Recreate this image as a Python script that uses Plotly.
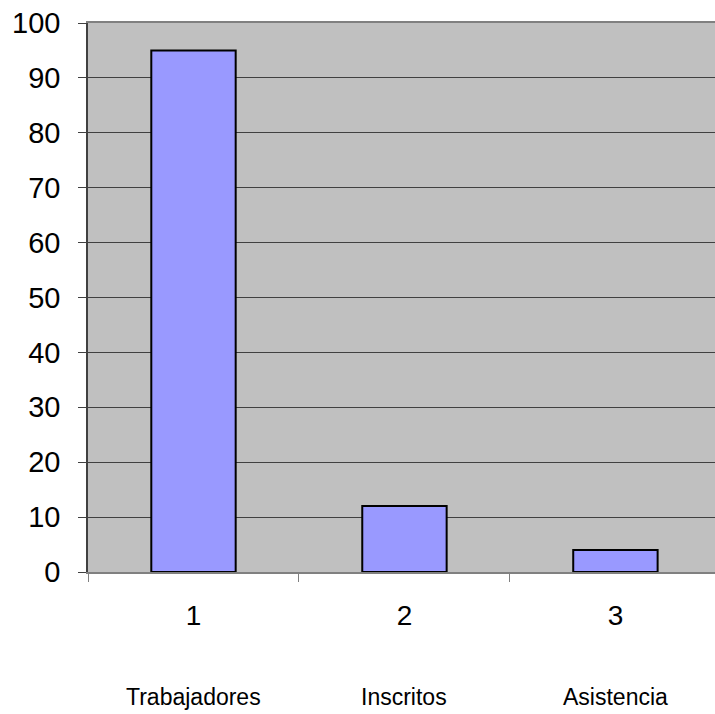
import plotly.graph_objects as go

categories = ["1", "2", "3"]
names = ["Trabajadores", "Inscritos", "Asistencia"]
values = [95, 12, 4]
y_ticks = [0, 10, 20, 30, 40, 50, 60, 70, 80, 90, 100]

fig = go.Figure()
fig.add_trace(go.Bar(
    x=categories, y=values,
    width=0.40,
    marker=dict(color="#9999FF", line=dict(color="black", width=2)),
    hoverinfo="skip",
))

annotations = []
for i, n in enumerate(names):
    annotations.append(dict(
        x=i, y=-0.228, xref="x", yref="paper", text=n, showarrow=False,
        xanchor="center", yanchor="middle",
        font=dict(family="Liberation Sans, Arial", size=23, color="black"),
    ))

fig.update_layout(
    width=715, height=714,
    margin=dict(l=88, r=0, t=23, b=142),
    paper_bgcolor="white",
    plot_bgcolor="#C0C0C0",
    showlegend=False,
    font=dict(family="Liberation Sans, Arial", color="black"),
    annotations=annotations,
    xaxis=dict(
        type="category",
        range=[-0.5, 2.472],
        tickson="boundaries",
        ticks="outside", ticklen=8, tickcolor="#808080", tickwidth=1,
        showgrid=False,
        showline=True, linecolor="#808080", linewidth=1.5, mirror=True,
        tickfont=dict(size=28),
        ticklabelstandoff=18,
    ),
    yaxis=dict(
        range=[0, 100],
        tickvals=y_ticks,
        ticks="outside", ticklen=8, tickcolor="#404040", tickwidth=1,
        showgrid=True, gridcolor="#404040", gridwidth=1,
        showline=True, linecolor="#404040", linewidth=1.5,
        zeroline=False,
        tickfont=dict(size=29),
        ticklabelstandoff=12,
    ),
)

fig.write_html(
    "out.html",
    config={"displayModeBar": False},
    post_script="document.body.style.margin='0';document.body.style.overflow='hidden';",
)
